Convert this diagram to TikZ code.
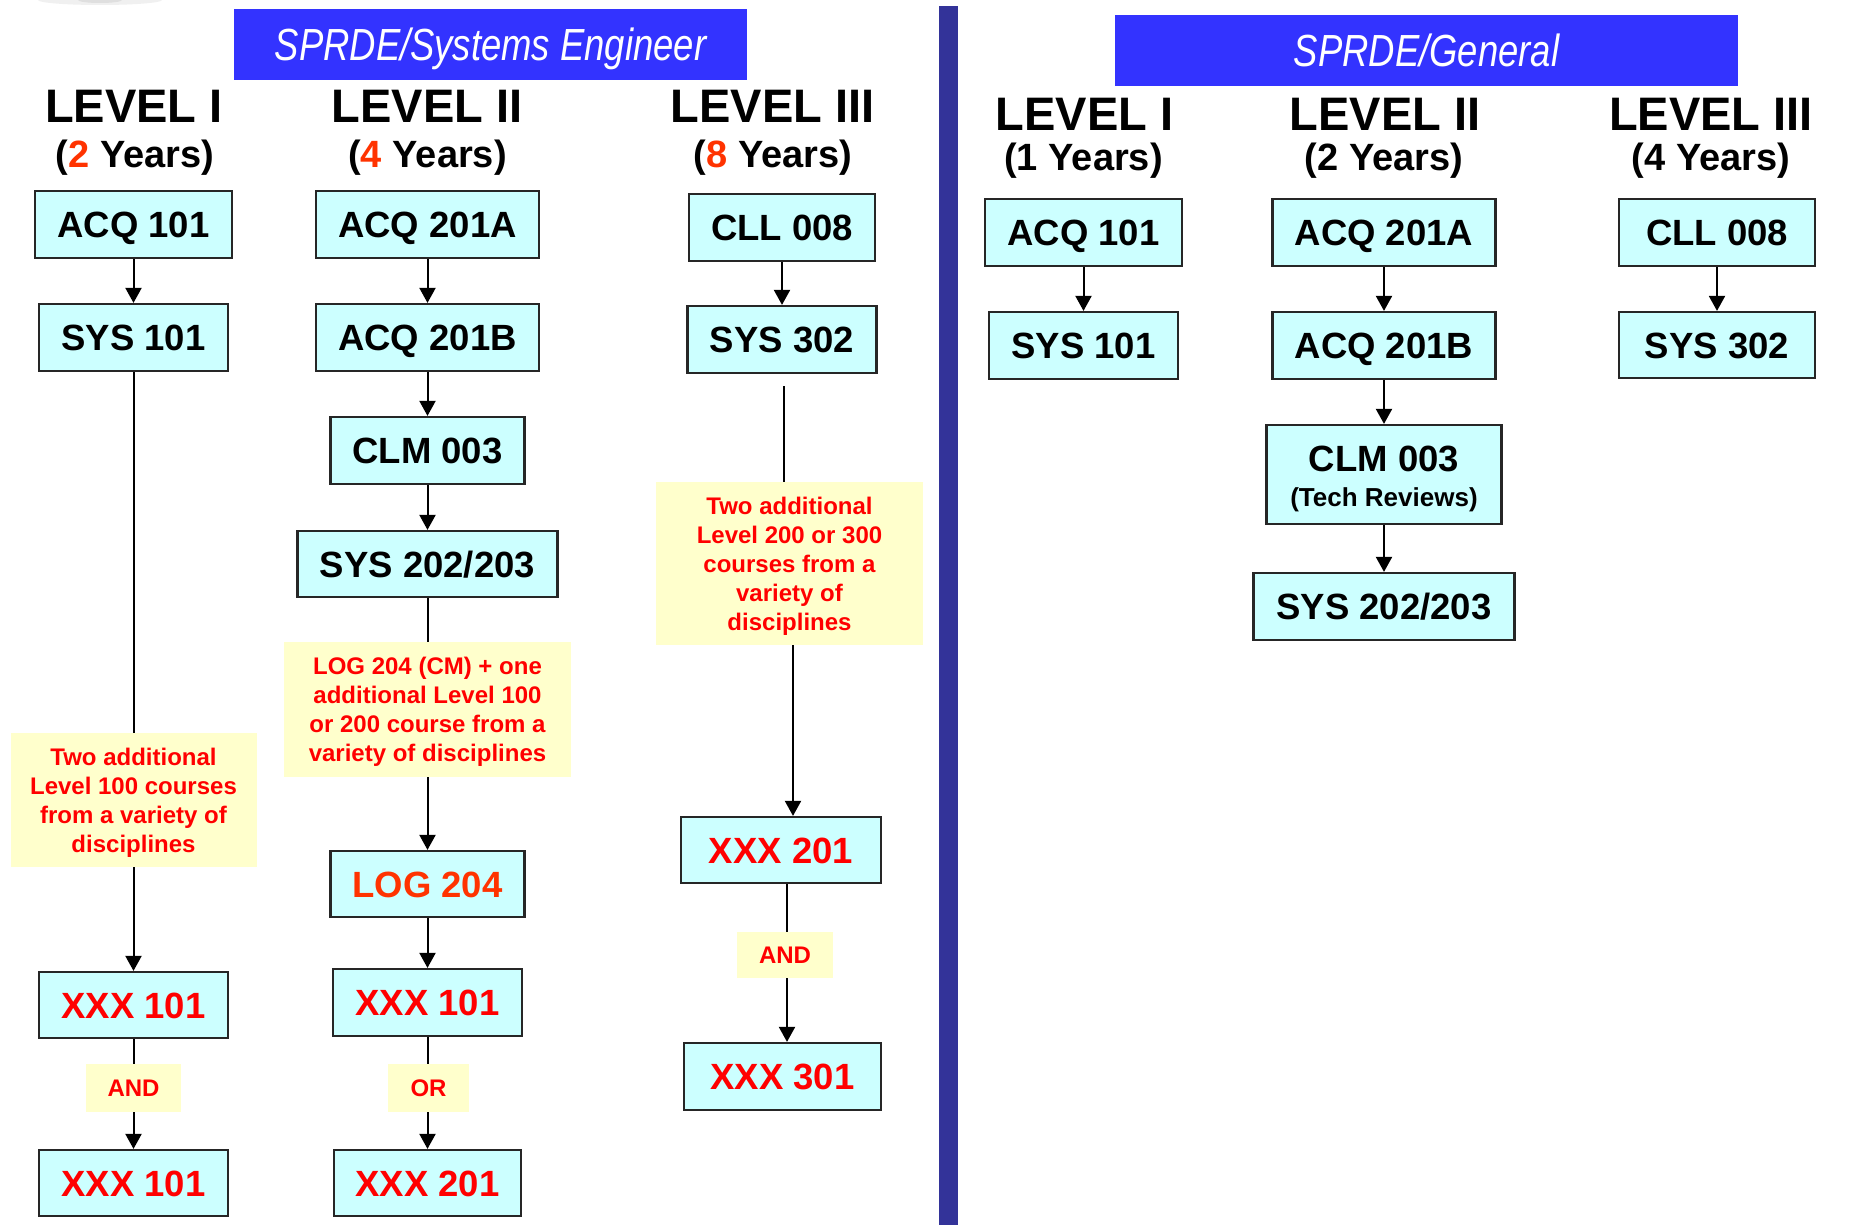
\documentclass[tikz,border=0pt]{standalone}
\usepackage{fontspec}
\setmainfont{Liberation Sans}
\newfontfamily\bannerfont{Liberation Sans}[FakeStretch=0.81]
\usetikzlibrary{arrows.meta}
\definecolor{boxfill}{HTML}{CCFFFF}
\definecolor{notefill}{HTML}{FFFFCC}
\definecolor{banner}{HTML}{3333FF}
\definecolor{divider}{HTML}{333399}
\definecolor{hot}{HTML}{FF3300}
\definecolor{notered}{HTML}{FF0000}

\begin{document}
\begin{tikzpicture}[x=1pt,y=-1pt,
  course/.style={draw=black!85, line width=2.2pt, fill=boxfill, inner sep=0pt,
    text height=26pt, text depth=0pt,
    font=\fontsize{36.5}{40}\selectfont\bfseries},
  redcourse/.style={course, text=notered},
  note/.style={fill=notefill, inner sep=0pt, align=center, text=notered,
    text depth=0pt, font=\fontsize{24}{29}\selectfont\bfseries},
  wordnote/.style={note, text height=17pt},
  head/.style={anchor=base, font=\fontsize{47}{50}\selectfont\bfseries},
  years/.style={anchor=base, font=\fontsize{38}{40}\selectfont\bfseries},
  bannerbox/.style={fill=banner, text=white, inner sep=0pt,
    text height=32pt, text depth=0pt,
    font=\bannerfont\fontsize{45}{50}\selectfont\itshape},
  link/.style={line width=2pt, draw=black},
  arr/.style={link, -{Triangle[length=15pt,width=16pt]}},
]
\useasboundingbox (0,0) rectangle (1869,1225);
\fill[white] (0,0) rectangle (1869,1225);

% faint grey smudge along the top edge
\fill[gray!12] (100,0) ellipse [x radius=62pt, y radius=5pt];
\fill[gray!25] (100,0) ellipse [x radius=22pt, y radius=3pt];

% panel divider
\fill[divider] (939,6) rectangle (958,1225);

% ---------------- SPRDE / Systems Engineer ----------------
\node[bannerbox, minimum width=513pt, minimum height=71pt] (ban1) at (490.5,44.5) {SPRDE/Systems Engineer};

\node[head] (h1) at (134,123) {LEVEL I};
\node[years] (y1) at (135,168) {(\textcolor{hot}{2} Years)};
\node[head] (h2) at (427,123) {LEVEL II};
\node[years] (y2) at (427.5,168) {(\textcolor{hot}{4} Years)};
\node[head] (h3) at (772.5,123) {LEVEL III};
\node[years] (y3) at (773,168) {(\textcolor{hot}{8} Years)};

% Level I column
\node[course, minimum width=197pt, minimum height=67pt] (a1) at (133.5,224.5) {ACQ 101};
\node[course, minimum width=189pt, minimum height=67pt] (a2) at (133.5,337.5) {SYS 101};
\node[note, minimum width=246pt, minimum height=134pt] (an) at (133.5,800) {Two additional\\Level 100 courses\\from a variety of\\disciplines};
\node[redcourse, minimum width=189pt, minimum height=66pt] (a3) at (133.5,1005) {XXX 101};
\node[wordnote, minimum width=95pt, minimum height=48pt] (aand) at (133.5,1088) {AND};
\node[redcourse, minimum width=189pt, minimum height=66pt] (a4) at (133.5,1183) {XXX 101};

\draw[arr] (a1) -- (a2);
\draw[link] (a2) -- (an);
\draw[arr] (an) -- (a3);
\draw[link] (a3) -- (aand);
\draw[arr] (aand) -- (a4);

% Level II column
\node[course, minimum width=223pt, minimum height=67pt] (b1) at (427.5,224.5) {ACQ 201A};
\node[course, minimum width=223pt, minimum height=67pt] (b2) at (427.5,337.5) {ACQ 201B};
\node[course, minimum width=194pt, minimum height=67pt] (b3) at (427.5,450.5) {CLM 003};
\node[course, minimum width=260pt, minimum height=66pt] (b4) at (427.5,564) {SYS 202/203};
\node[note, minimum width=287pt, minimum height=135pt] (bn) at (427.5,709.5) {LOG 204 (CM) + one\\additional Level 100\\or 200 course from a\\variety of disciplines};
\node[course, text=hot, minimum width=194pt, minimum height=66pt] (b5) at (427.5,884) {LOG 204};
\node[redcourse, minimum width=189pt, minimum height=67pt] (b6) at (427.5,1002.5) {XXX 101};
\node[wordnote, minimum width=81pt, minimum height=48pt] (bor) at (428.5,1088) {OR};
\node[redcourse, minimum width=187pt, minimum height=66pt] (b7) at (427.5,1183) {XXX 201};

\draw[arr] (b1) -- (b2);
\draw[arr] (b2) -- (b3);
\draw[arr] (b3) -- (b4);
\draw[link] (b4) -- (bn);
\draw[arr] (bn) -- (b5);
\draw[arr] (b5) -- (b6);
\draw[link] (b6) -- (b6 |- bor.north);
\draw[arr] (b7 |- bor.south) -- (b7);

% Level III column
\node[course, minimum width=186pt, minimum height=67pt] (c1) at (782,227.5) {CLL 008};
\node[course, minimum width=189pt, minimum height=67pt] (c2) at (782,339.5) {SYS 302};
\node[note, minimum width=267pt, minimum height=163pt] (cn) at (789.5,563.5) {Two additional\\Level 200 or 300\\courses from a\\variety of\\disciplines};
\node[redcourse, minimum width=200pt, minimum height=66pt] (c3) at (781,850) {XXX 201};
\node[wordnote, minimum width=96pt, minimum height=46pt] (cand) at (785,955) {AND};
\node[redcourse, minimum width=197pt, minimum height=67pt] (c4) at (782.5,1076.5) {XXX 301};

\coordinate (cgap) at (784,386);
\draw[arr] (c1) -- (c2);
\draw[link] (cgap) -- (cgap |- cn.north);
\draw[arr] (cn.south -| 793,0) -- (c3.north -| 793,0);
\draw[link] (c3.south -| 787,0) -- (cand.north -| 787,0);
\draw[arr] (cand.south -| 787,0) -- (c4.north -| 787,0);

% ---------------- SPRDE / General ----------------
\node[bannerbox, minimum width=623pt, minimum height=71pt] (ban2) at (1426.5,50.5) {SPRDE/General};

\node[head] (g1) at (1084.5,131) {LEVEL I};
\node[years] (gy1) at (1083.5,171) {(1 Years)};
\node[head] (g2) at (1385,131) {LEVEL II};
\node[years] (gy2) at (1384,171) {(2 Years)};
\node[head] (g3) at (1711,131) {LEVEL III};
\node[years] (gy3) at (1711,171) {(4 Years)};

\node[course, minimum width=197pt, minimum height=67pt] (d1) at (1083.5,232.5) {ACQ 101};
\node[course, minimum width=189pt, minimum height=67pt] (d2) at (1083.5,345.5) {SYS 101};
\draw[arr] (d1) -- (d2);

\node[course, minimum width=223pt, minimum height=67pt] (e1) at (1384,232.5) {ACQ 201A};
\node[course, minimum width=223pt, minimum height=67pt] (e2) at (1384,345.5) {ACQ 201B};
\node[course, minimum width=235pt, minimum height=99pt, align=center,
      text height=63pt, text depth=0pt] (e3) at (1384,474.5)
  {CLM 003\\[-5pt]{\fontsize{26}{28}\selectfont (Tech Reviews)}};
\node[course, minimum width=261pt, minimum height=67pt] (e4) at (1384,606.5) {SYS 202/203};
\draw[arr] (e1) -- (e2);
\draw[arr] (e2) -- (e3);
\draw[arr] (e3) -- (e4);

\node[course, minimum width=196pt, minimum height=67pt] (f1) at (1717,232.5) {CLL 008};
\node[course, minimum width=196pt, minimum height=66pt] (f2) at (1717,345) {SYS 302};
\draw[arr] (f1) -- (f2);
\end{tikzpicture}
\end{document}
